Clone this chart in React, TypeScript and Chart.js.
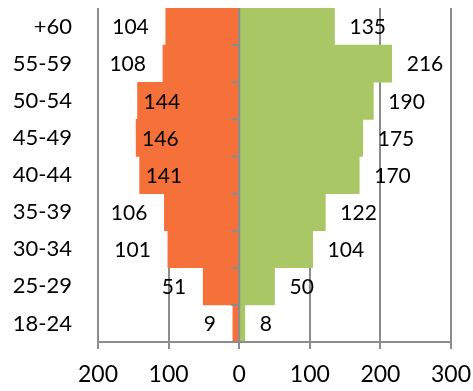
import React, { useEffect, useRef } from 'react';
import { Chart, registerables } from 'chart.js';

Chart.register(...registerables);

const categories = ['+60', '55-59', '50-54', '45-49', '40-44', '35-39', '30-34', '25-29', '18-24'];
const leftValues = [104, 108, 144, 146, 141, 106, 101, 51, 9];
const rightValues = [135, 216, 190, 175, 170, 122, 104, 50, 8];
const xTicks = [-200, -100, 0, 100, 200, 300];

const ORANGE = '#F6703A';
const GREEN = '#A9C765';
const GRID = '#8C8C8C';
const FONT = 'Lato, "Open Sans", sans-serif';

const overlay = {
  id: 'overlay',
  afterDatasetsDraw(chart: any) {
    const { ctx, chartArea, scales } = chart;
    const xs = scales.x;
    const ys = scales.y;
    const x0 = xs.getPixelForValue(0);
    const n = categories.length;
    const step = (chartArea.bottom - chartArea.top) / n;
    ctx.save();
    ctx.strokeStyle = GRID;
    ctx.lineWidth = 2;
    ctx.beginPath();
    ctx.moveTo(x0, chartArea.top);
    ctx.lineTo(x0, chartArea.bottom);
    for (let i = 1; i <= n; i++) {
      const yy = chartArea.top + i * step;
      ctx.moveTo(x0 - 8, yy);
      ctx.lineTo(x0, yy);
    }
    ctx.moveTo(chartArea.left, chartArea.bottom);
    ctx.lineTo(chartArea.right, chartArea.bottom);
    ctx.stroke();

    ctx.font = `21px ${FONT}`;
    ctx.fillStyle = '#000';
    ctx.textBaseline = 'middle';
    categories.forEach((_c, i) => {
      const yc = ys.getPixelForValue(i) + 1;
      const g = rightValues[i];
      ctx.textAlign = 'left';
      ctx.fillText(String(g), xs.getPixelForValue(g) + 15, yc);
      const o = leftValues[i];
      const t = String(o);
      const w = ctx.measureText(t).width;
      const xe = xs.getPixelForValue(-o);
      if (xe - 17 - w < chartArea.left + 4) {
        ctx.textAlign = 'left';
        ctx.fillText(t, xe + 6, yc);
      } else {
        ctx.textAlign = 'right';
        ctx.fillText(t, xe - 17, yc);
      }
    });
    ctx.restore();
  },
};

export default function App() {
  const ref = useRef<HTMLCanvasElement | null>(null);
  useEffect(() => {
    if (!ref.current) return;
    const chart = new Chart(ref.current, {
      type: 'bar',
      data: {
        labels: categories,
        datasets: [
          {
            data: leftValues.map((v) => -v),
            backgroundColor: ORANGE,
            borderWidth: 0,
            barPercentage: 1,
            categoryPercentage: 1,
          },
          {
            data: rightValues,
            backgroundColor: GREEN,
            borderWidth: 0,
            barPercentage: 1,
            categoryPercentage: 1,
          },
        ],
      },
      options: {
        indexAxis: 'y',
        animation: false,
        responsive: false,
        devicePixelRatio: 1,
        layout: { padding: { top: 8, right: 22, left: 0, bottom: 0 } },
        plugins: { legend: { display: false }, tooltip: { enabled: false } },
        scales: {
          x: {
            type: 'linear',
            stacked: true,
            min: -200,
            max: 300,
            afterBuildTicks: (s: any) => {
              s.ticks = xTicks.map((v) => ({ value: v }));
            },
            ticks: {
              callback: (v: any) => String(Math.abs(Number(v))),
              font: { family: FONT, size: 23 },
              color: '#000',
              padding: 12,
              maxRotation: 0,
              autoSkip: false,
            },
            grid: { color: GRID, lineWidth: 2, tickLength: 7, drawTicks: true },
            border: { display: true, color: GRID, width: 2 },
            afterFit: (s: any) => {
              s.height = 49;
              s.paddingLeft = 0;
              s.paddingRight = 0;
            },
          },
          y: {
            type: 'category',
            stacked: true,
            ticks: {
              font: { family: FONT, size: 22 },
              color: '#000',
              padding: 26,
              autoSkip: false,
            },
            grid: { display: false, drawTicks: false },
            border: { display: false },
            afterFit: (s: any) => {
              s.width = 98;
              s.paddingTop = 0;
              s.paddingBottom = 0;
            },
          },
        },
      },
      plugins: [overlay],
    } as any);
    return () => chart.destroy();
  }, []);
  return (
    <div style={{ position: 'absolute', left: 0, top: 0, width: 473, height: 391, background: '#fff' }}>
      <canvas ref={ref} width={473} height={391} />
    </div>
  );
}
